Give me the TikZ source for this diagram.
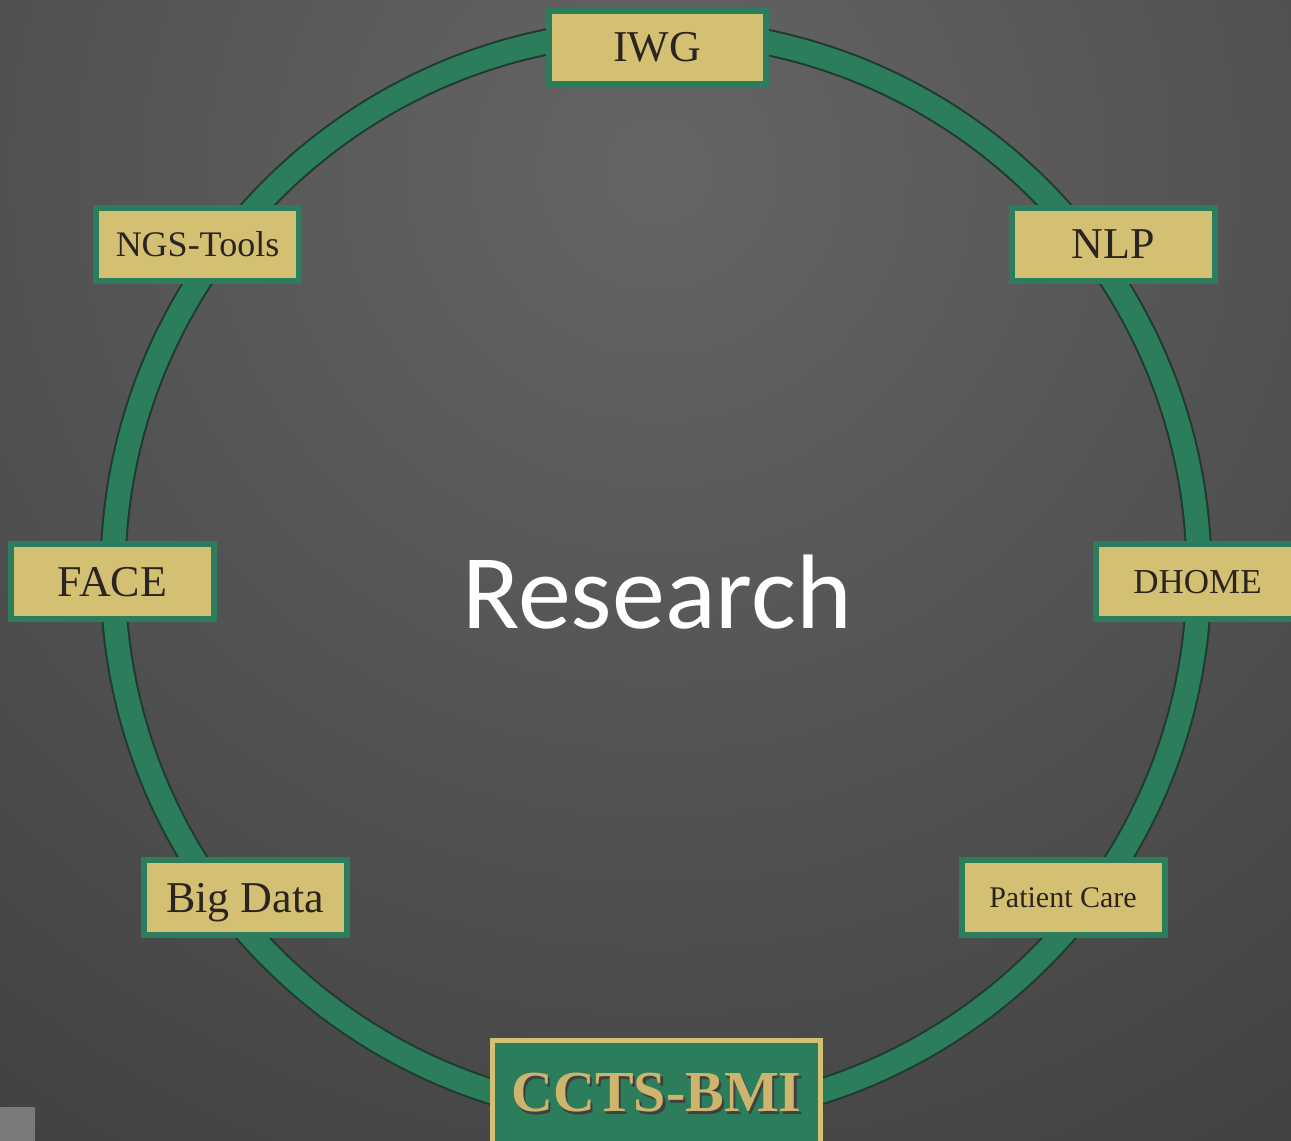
\documentclass[tikz,border=0pt]{standalone}
\usepackage{fontspec}
\setmainfont{Liberation Serif}
\newfontfamily\researchfont{Carlito}
\definecolor{bgdark}{HTML}{393939}
\definecolor{bglight}{HTML}{656565}
\definecolor{cornergray}{HTML}{7A7A7A}
\definecolor{ringgreen}{HTML}{2B7D5C}
\definecolor{ringdark}{HTML}{1F3A30}
\definecolor{boxgold}{HTML}{D4C073}
\definecolor{textgold}{HTML}{CDB56E}
\definecolor{textdark}{HTML}{2B2420}
\newcommand{\shadowed}[3]{\makebox[0pt][l]{\hspace{#1}\raisebox{-#1}{\color{#2}#3}}#3}

\begin{document}
\begin{tikzpicture}[
    x=1pt, y=-1pt,
    topic/.style={rectangle, draw=ringgreen, fill=boxgold, line width=6pt, text=textdark, minimum width=203pt, minimum height=73pt, inner sep=0pt, text depth=0pt},
    hub/.style={rectangle, draw=boxgold, fill=ringgreen, line width=5pt, text=textgold, minimum width=328pt, minimum height=108pt, inner sep=0pt, font=\bfseries\fontsize{58}{60}\selectfont}
]
\useasboundingbox (0,0) rectangle (1291,1141);
\clip (0,0) rectangle (1291,1141);
% background
\fill[bgdark] (0,0) rectangle (1291,1141);
\shade[inner color=bglight, outer color=bgdark] (657,170) circle[radius=1450];
\fill[cornergray] (0,1107) rectangle (35,1141);
% ring
\draw[ringdark, line width=27pt] (656,574) circle[radius=543];
\draw[ringgreen, line width=23pt] (656,574) circle[radius=543];
% topics
\node[topic, minimum width=217pt, font=\fontsize{44}{48}\selectfont] (iwg) at (657,47) {IWG};
\node[topic, font=\fontsize{36}{40}\selectfont] (ngs) at (197.5,244) {NGS-Tools};
\node[topic, font=\fontsize{44}{48}\selectfont] (nlp) at (1113,244) {NLP};
\node[topic, minimum height=75pt, font=\fontsize{44}{48}\selectfont] (face) at (112.5,581.5) {FACE};
\node[topic, minimum height=75pt, font=\fontsize{35}{40}\selectfont] (dhome) at (1197.5,581.5) {DHOME};
\node[topic, minimum height=75pt, font=\fontsize{44}{48}\selectfont] (bigdata) at (245,897.5) {Big Data};
\node[topic, minimum height=75pt, font=\fontsize{30}{34}\selectfont] (care) at (1063,897.5) {Patient Care};
\node[hub] (ccts) at (656.5,1094) {\shadowed{2.5pt}{black!75}{CCTS-BMI}};
% centre
\node[text=white, text depth=0pt, font=\researchfont\fontsize{106}{110}\selectfont] (research) at (657,592) {Research};
\end{tikzpicture}
\end{document}
